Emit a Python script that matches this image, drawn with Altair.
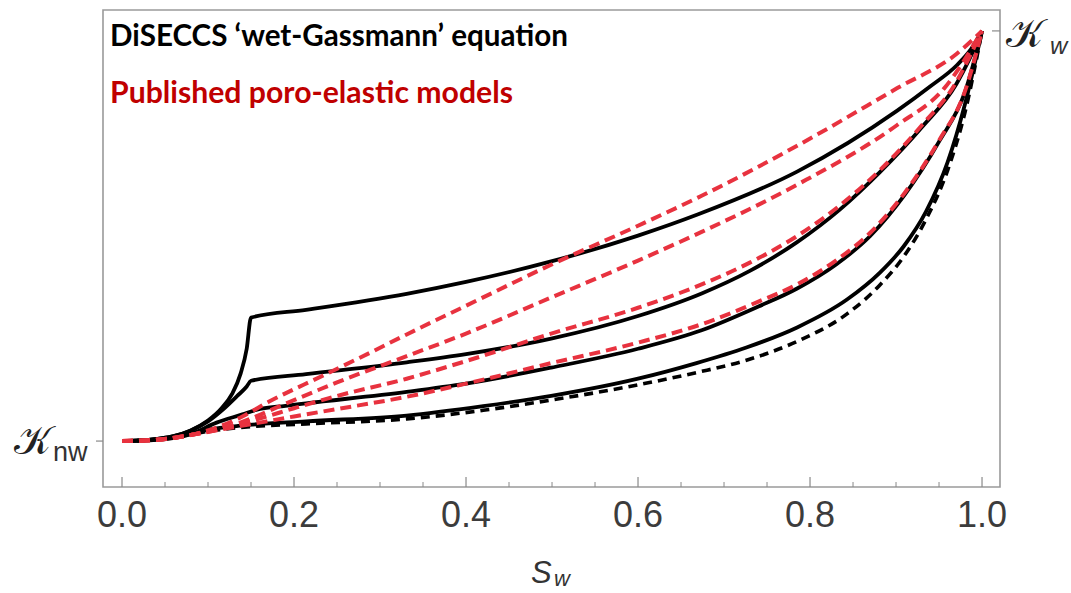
import altair as alt
import pandas as pd

# ---------------- data (S_w, normalised K between K_nw=0 and K_w=1) ----------------
B1_S = [0, .03, .06, .08, .10, .115, .128, .138, .145, .150, .214, .331, .40, .499, .60, .67, .785, .901, .94, .971, .987, 1.0]
B1_K = [0, .003, .012, .026, .05, .078, .115, .165, .225, .301, .320, .359, .388, .438, .501, .553, .657, .805, .865, .917, .955, 1.0]

B2_S = [0, .03, .06, .08, .10, .118, .134, .145, .150, .214, .331, .40, .499, .60, .674, .73, .785, .835, .881, .93, .97, .985, 1.0]
B2_K = [0, .003, .012, .026, .048, .078, .110, .133, .147, .163, .192, .212, .25, .305, .36, .415, .485, .565, .655, .765, .87, .93, 1.0]

B3_S = [0, .04, .08, .11, .14, .156, .19, .214, .331, .40, .499, .60, .674, .74, .785, .83, .87, .91, .95, .98, 1.0]
B3_K = [0, .003, .017, .045, .065, .076, .086, .092, .12, .14, .179, .225, .27, .328, .372, .43, .50, .60, .73, .85, 1.0]

B4_S = [0, .04, .07, .10, .14, .214, .331, .42, .499, .60, .668, .726, .785, .843, .881, .909, .935, .96, .98, 1.0]
B4_K = [0, .004, .014, .028, .038, .048, .062, .085, .11, .152, .19, .228, .277, .345, .41, .475, .56, .68, .82, 1.0]

B5_S = [0, .04, .07, .10, .15, .214, .331, .42, .499, .60, .668, .726, .785, .843, .881, .909, .936, .96, .98, 1.0]
B5_K = [0, .004, .013, .024, .035, .042, .054, .075, .10, .137, .167, .197, .243, .31, .38, .45, .545, .66, .80, 1.0]

RA_S = [0, .04, .08, .11, .14, .17, .234, .288, .331, .40, .499, .60, .674, .785, .901, .971, 1.0]
RA_K = [0, .003, .015, .033, .06, .095, .16, .215, .26, .33, .43, .525, .598, .72, .86, .945, 1.0]

RB_S = [0, .04, .08, .12, .15, .18, .25, .331, .40, .499, .60, .674, .785, .901, .956, 1.0]
RB_K = [0, .003, .015, .033, .055, .082, .143, .207, .262, .35, .44, .51, .625, .77, .86, 1.0]

RC_S = [0, .04, .08, .12, .16, .20, .25, .331, .40, .499, .60, .674, .73, .785, .835, .881, .93, .97, .985, 1.0]
RC_K = [0, .003, .015, .033, .055, .08, .11, .152, .195, .262, .325, .382, .435, .50, .575, .66, .77, .875, .935, 1.0]

RD_S = [0, .04, .08, .12, .16, .20, .25, .331, .40, .499, .60, .674, .74, .785, .83, .87, .91, .95, .98, 1.0]
RD_K = [0, .003, .015, .03, .045, .06, .078, .108, .14, .19, .24, .285, .34, .382, .44, .508, .605, .733, .852, 1.0]

MAJOR_TICKS = [0.0, 0.2, 0.4, 0.6, 0.8, 1.0]
MAJOR_LABELS = ["0.0", "0.2", "0.4", "0.6", "0.8", "1.0"]
MINOR_TICKS = [0.05, 0.1, 0.15, 0.25, 0.3, 0.35, 0.45, 0.5, 0.55, 0.65, 0.7, 0.75, 0.85, 0.9, 0.95]

TITLE_1 = "DiSECCS \u2018wet-Gassmann\u2019 equation"
TITLE_2 = "Published poro-elastic models"


def series(name, s, k):
    return pd.DataFrame({"series": name, "S": s, "K": k, "idx": list(range(len(s)))})


black_solid = pd.concat([series("b1", B1_S, B1_K), series("b2", B2_S, B2_K),
                         series("b3", B3_S, B3_K), series("b4", B4_S, B4_K)])
black_dash = series("b5", B5_S, B5_K)
red_dash = pd.concat([series("ra", RA_S, RA_K), series("rb", RB_S, RB_K),
                      series("rc", RC_S, RC_K), series("rd", RD_S, RD_K)])

W, H = 897, 477
xs = alt.Scale(domain=[-0.0221, 1.0209], nice=False, zero=False)
ys = alt.Scale(domain=[-0.112, 1.051], nice=False, zero=False)
X = alt.X("S:Q", scale=xs, axis=None)
Y = alt.Y("K:Q", scale=ys, axis=None)

base_line = dict(interpolate="monotone", strokeCap="butt", strokeJoin="round")

l_black = alt.Chart(black_solid).mark_line(color="black", strokeWidth=3.8, **base_line).encode(
    x=X, y=Y, detail="series:N", order="idx:Q")
l_bdash = alt.Chart(black_dash).mark_line(color="black", strokeWidth=3.6, strokeDash=[9, 6], **base_line).encode(
    x=X, y=Y, detail="series:N", order="idx:Q")
l_red = alt.Chart(red_dash).mark_line(color="#e8323f", strokeWidth=4.0, strokeDash=[11, 6], **base_line).encode(
    x=X, y=Y, detail="series:N", order="idx:Q")

maj = pd.DataFrame({"S": MAJOR_TICKS, "lab": MAJOR_LABELS})
mnr = pd.DataFrame({"S": MINOR_TICKS})

t_major = alt.Chart(maj).mark_rule(color="#8a8a8a", strokeWidth=1.2).encode(
    x=X, y=alt.value(H), y2=alt.value(H - 10))
t_minor = alt.Chart(mnr).mark_rule(color="#8a8a8a", strokeWidth=1.0).encode(
    x=X, y=alt.value(H), y2=alt.value(H - 5))
t_labels = alt.Chart(maj).mark_text(font="Liberation Sans", fontSize=36, color="#3c3c3c",
                                    baseline="alphabetic", align="center").encode(
    x=X, y=alt.value(H + 40), text="lab:N")

one = pd.DataFrame({"K": [0.0]})
oneW = pd.DataFrame({"K": [1.0]})
k_tick_l = alt.Chart(one).mark_rule(color="#8a8a8a", strokeWidth=1.2).encode(
    y=Y, x=alt.value(-7), x2=alt.value(0))
k_tick_r = alt.Chart(oneW).mark_rule(color="#8a8a8a", strokeWidth=1.2).encode(
    y=Y, x=alt.value(W - 8), x2=alt.value(W))

knw_K = alt.Chart(one).mark_text(text="\U0001D4A6", font="DejaVu Serif", fontSize=40, color="#222",
                                 align="left", baseline="alphabetic").encode(
    x=alt.value(-89), y=alt.value(454 - 10))
knw_sub = alt.Chart(one).mark_text(text="nw", font="Liberation Sans", fontSize=27, color="#333",
                                   align="left", baseline="alphabetic").encode(
    x=alt.value(-50), y=alt.value(461 - 10))
kw_K = alt.Chart(one).mark_text(text="\U0001D4A6", font="DejaVu Serif", fontSize=40, color="#222",
                                align="left", baseline="alphabetic").encode(
    x=alt.value(1006 - 103), y=alt.value(47 - 10))
kw_sub = alt.Chart(one).mark_text(text="w", font="Liberation Sans", fontSize=24, fontStyle="italic",
                                  color="#333", align="left", baseline="alphabetic").encode(
    x=alt.value(1050 - 103), y=alt.value(54 - 10))

s_lab = alt.Chart(one).mark_text(text="S", font="Liberation Sans", fontSize=31, fontStyle="italic",
                                 color="#333", align="left", baseline="alphabetic").encode(
    x=alt.value(531 - 103), y=alt.value(583 - 10))
s_sub = alt.Chart(one).mark_text(text="w", font="Liberation Sans", fontSize=22, fontStyle="italic",
                                 color="#333", align="left", baseline="alphabetic").encode(
    x=alt.value(554 - 103), y=alt.value(586 - 10))

title1 = alt.Chart(one).mark_text(text=TITLE_1, font="Lato", fontWeight="bold", fontSize=29.6, color="#000000",
                                  align="left", baseline="alphabetic").encode(
    x=alt.value(7), y=alt.value(36))
title2 = alt.Chart(one).mark_text(text=TITLE_2, font="Lato", fontWeight="bold", fontSize=30.2, color="#c00000",
                                  align="left", baseline="alphabetic").encode(
    x=alt.value(7), y=alt.value(93))

chart = alt.layer(
    l_black, l_bdash, l_red, t_major, t_minor, t_labels, k_tick_l, k_tick_r,
    knw_K, knw_sub, kw_K, kw_sub, s_lab, s_sub, title1, title2
).properties(
    width=W, height=H,
    autosize=alt.AutoSizeParams(type="none"),
    padding={"left": 103, "top": 10, "right": 71, "bottom": 106},
    background="white",
).configure_view(stroke="#9a9a9a", strokeWidth=1.6)

chart.save("out.html", embed_options={"renderer": "svg", "actions": False})
